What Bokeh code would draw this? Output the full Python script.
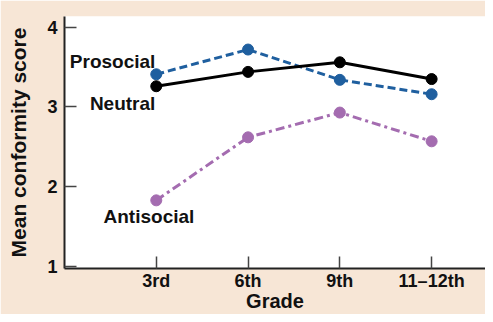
from bokeh.plotting import figure
from bokeh.models import ColumnDataSource, FixedTicker, Range1d
from bokeh.core.properties import value
from bokeh.embed import file_html
from bokeh.resources import INLINE

grades = ["3rd", "6th", "9th", "11\u201312th"]
grade_pos = [1, 2, 3, 4]
prosocial = [3.41, 3.72, 3.34, 3.16]
neutral = [3.26, 3.44, 3.56, 3.35]
antisocial = [1.83, 2.62, 2.93, 2.57]
series_names = ["Prosocial", "Neutral", "Antisocial"]
y_ticks = [1, 2, 3, 4]
x_title = "Grade"
y_title = "Mean conformity score"

BEIGE = "#f7e6d6"
BLUE = "#1f5f9f"
PURPLE = "#a46cb0"
FONT = "Liberation Sans"

p = figure(width=485, height=314, output_backend="svg", toolbar_location=None,
           x_range=Range1d(0, 4.587), y_range=Range1d(0.976, 4.134),
           min_border_left=64, min_border_right=0, min_border_top=16, min_border_bottom=46)
p.border_fill_color = BEIGE
p.background_fill_color = "white"
p.outline_line_color = None
p.grid.visible = False

src = ColumnDataSource(dict(x=grade_pos, pro=prosocial, neu=neutral, anti=antisocial))

p.line("x", "anti", source=src, line_color=PURPLE, line_width=3, line_dash="9 4 3 4")
p.scatter("x", "anti", source=src, size=11, fill_color=PURPLE, line_color=PURPLE)
p.line("x", "pro", source=src, line_color=BLUE, line_width=3, line_dash="8 4")
p.scatter("x", "pro", source=src, size=11, fill_color=BLUE, line_color=BLUE)
p.line("x", "neu", source=src, line_color="black", line_width=3)
p.scatter("x", "neu", source=src, size=11, fill_color="black", line_color="black")

lab = ColumnDataSource(dict(x=[0.99, 0.99, 0.92], y=[3.57, 3.05, 1.63], t=series_names,
                            align=["right", "right", "center"]))
p.text("x", "y", text="t", source=lab, text_align="align", text_baseline="middle",
       text_font=value(FONT), text_font_style="bold", text_font_size="19px", text_color="#111111")

p.xaxis.ticker = FixedTicker(ticks=grade_pos)
p.xaxis.major_label_overrides = {g: l for g, l in zip(grade_pos, grades)}
p.yaxis.ticker = FixedTicker(ticks=y_ticks)
p.xaxis.axis_label = x_title
p.yaxis.axis_label = y_title
for ax in (p.xaxis, p.yaxis):
    ax.minor_tick_line_color = None
    ax.major_tick_in = 12
    ax.major_tick_out = 0
    ax.axis_line_width = 2
    ax.axis_line_color = "#222222"
    ax.major_tick_line_color = "#444444"
    ax.major_tick_line_width = 1.5
    ax.major_label_text_font = FONT
    ax.major_label_text_font_style = "bold"
    ax.major_label_text_color = "#111111"
    ax.axis_label_text_font = FONT
    ax.axis_label_text_font_style = "bold"
    ax.axis_label_text_color = "#111111"
p.xaxis.major_label_text_font_size = "18px"
p.yaxis.major_label_text_font_size = "18px"
p.xaxis.axis_label_text_font_size = "20px"
p.yaxis.axis_label_text_font_size = "21px"
p.xaxis.major_label_standoff = 2
p.yaxis.major_label_standoff = 7
p.xaxis.axis_label_standoff = -4
p.yaxis.axis_label_standoff = 14

open("out.html", "w").write(file_html(p, INLINE))
